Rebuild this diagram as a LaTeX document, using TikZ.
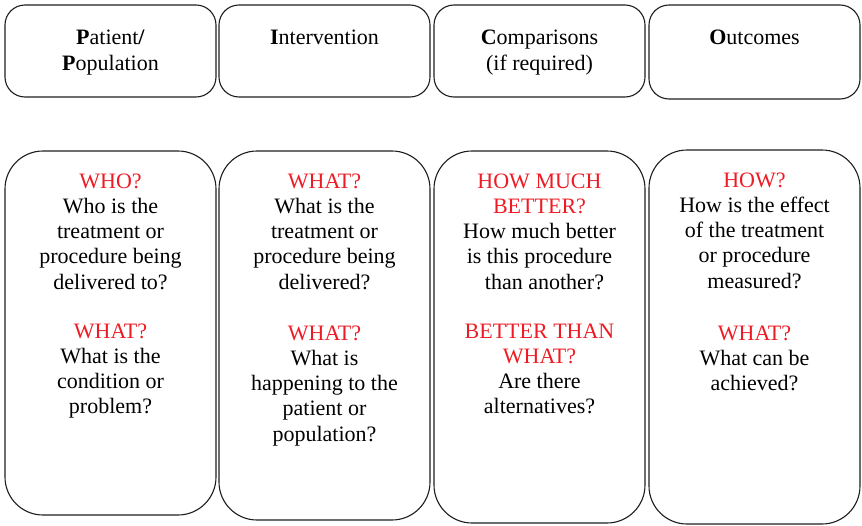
\documentclass[tikz,border=0pt]{standalone}
\usepackage{fontspec}
\setmainfont{Liberation Serif}
\definecolor{qred}{RGB}{237,28,36}
\definecolor{qline}{RGB}{30,30,30}
\begin{document}
\begin{tikzpicture}[x=1pt,y=-1pt,
  headbox/.style={draw=qline, line width=1.1pt, rounded corners=20pt, inner sep=0pt, minimum width=211pt},
  bodybox/.style={draw=qline, line width=1.1pt, rounded corners=38pt, inner sep=0pt, minimum width=211pt},
  txt/.style={align=center, inner sep=0pt, font=\fontsize{22}{25.3}\selectfont, anchor=base}]
\useasboundingbox (0,0) rectangle (862,525);
% header boxes
\node[headbox, minimum height=92pt] (h1) at (110.5,51) {};
\node[headbox, minimum height=92pt] (h2) at (324.5,51) {};
\node[headbox, minimum height=92pt] (h3) at (539.5,51) {};
\node[headbox, minimum height=94pt] (h4) at (754.5,52) {};
% (anchor base = baseline of the last line)
\node[txt] (ht1) at (110.5,70) {\textbf{P}atient\textbf{/}\\\textbf{P}opulation};
\node[txt] (ht2) at (324.5,44.5) {\textbf{I}ntervention};
\node[txt] (ht3) at (539.5,70) {\textbf{C}omparisons\\(if required)};
\node[txt] (ht4) at (754.5,44.5) {\textbf{O}utcomes};
% body boxes
\node[bodybox, minimum height=364pt] (b1) at (110.5,333) {};
\node[bodybox, minimum height=369pt] (b2) at (324.5,335.5) {};
\node[bodybox, minimum height=372pt] (b3) at (539.5,337) {};
\node[bodybox, minimum height=374pt] (b4) at (754.5,337) {};
% body texts
\node[txt] (a1) at (110.5,289.2) {\textcolor{qred}{WHO?}\\Who is the\\treatment or\\procedure being\\delivered to?};
\node[txt] (c1) at (110.5,413.9) {\textcolor{qred}{WHAT?}\\What is the\\condition or\\problem?};
\node[txt] (a2) at (324.5,289.2) {\textcolor{qred}{WHAT?}\\What is the\\treatment or\\procedure being\\delivered?};
\node[txt] (c2) at (324.5,441.2) {\textcolor{qred}{WHAT?}\\What is\\happening to the\\patient or\\population?};
\node[txt] (a3) at (539.5,289.2) {\textcolor{qred}{HOW MUCH}\\\textcolor{qred}{BETTER?}\\How much better\\is this procedure\\\hspace*{10pt}than another?};
\node[txt] (c3) at (539.5,413.9) {\textcolor{qred}{BETTER THAN}\\\textcolor{qred}{WHAT?}\\Are there\\alternatives?};
\node[txt] (a4) at (754.5,288.2) {\textcolor{qred}{HOW?}\\How is the effect\\of the treatment\\or procedure\\measured?};
\node[txt] (c4) at (754.5,390.6) {\textcolor{qred}{WHAT?}\\What can be\\achieved?};
\end{tikzpicture}
\end{document}
